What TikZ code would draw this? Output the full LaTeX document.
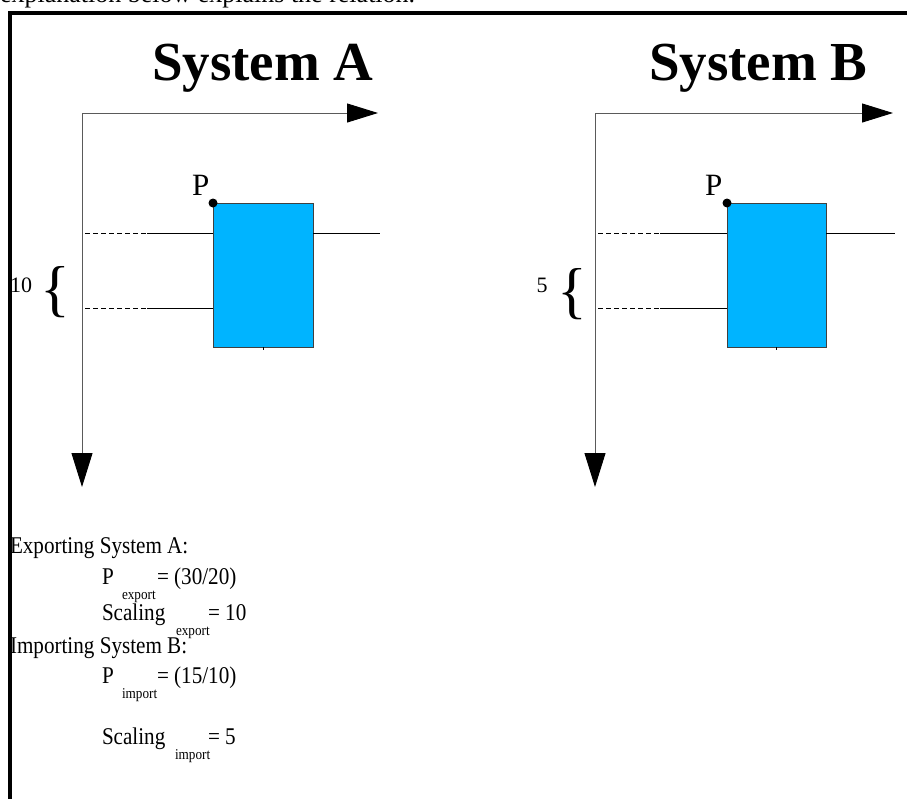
\documentclass[tikz,border=0pt]{standalone}
\usepackage{fontspec}
\setmainfont{Liberation Serif}
\usetikzlibrary{arrows.meta}
\definecolor{boxblue}{RGB}{0,180,255}
\definecolor{axisgray}{RGB}{90,90,90}
\newcommand{\nrw}[1]{\scalebox{0.88}[1]{#1}}
\tikzset{
  txt/.style={inner sep=0pt, outer sep=0pt, anchor=base west, font=\fontsize{24}{26}\selectfont},
  subtxt/.style={inner sep=0pt, outer sep=0pt, anchor=base west, font=\fontsize{15}{16}\selectfont},
  title/.style={inner sep=0pt, outer sep=0pt, anchor=base west, font=\fontsize{55}{60}\selectfont\bfseries},
  bracetxt/.style={inner sep=0pt, outer sep=0pt, anchor=base west, font=\fontsize{62}{64}\selectfont},
  plabel/.style={inner sep=0pt, outer sep=0pt, anchor=base west, font=\fontsize{31}{33}\selectfont},
  axis/.style={draw=axisgray, line width=1pt,
    {Triangle[length=34pt,width=21pt,color=black]}-{Triangle[length=31pt,width=19pt,color=black]}},
  sysbox/.style={draw=black!75, line width=0.8pt, fill=boxblue, minimum width=100pt, minimum height=144pt, inner sep=0pt, outer sep=0pt},
  dashln/.style={draw=black, line width=0.8pt, dash pattern=on 5pt off 3pt},
  solidln/.style={draw=black, line width=0.8pt},
  pdot/.style={circle, fill=black, inner sep=0pt, minimum size=9pt},
  frame/.style={draw=black, line width=4pt}
}
\begin{document}
\begin{tikzpicture}[x=1pt,y=-1pt]
\useasboundingbox (0,0) rectangle (907,798);
% clipped line of text above the frame
\node[txt, font=\fontsize{26}{28}\selectfont] (toptext) at (0,2) {explanation below explains the relation.};
% frame
\coordinate (fbl) at (10,805);
\coordinate (ftl) at (10,12.5);
\coordinate (ftr) at (912,12.5);
\draw[frame] (fbl) -- (ftl) -- (ftr);

% ---------- System A ----------
\node[title] (titleA) at (152,80) {System A};
\coordinate (oA) at (82,113);
\coordinate (xA) at (378,113);
\coordinate (yA) at (82,487);
\draw[axis] (yA) -- (oA) -- (xA);
\node[sysbox] (boxA) at (263,275) {};
\coordinate (dA1) at (85,233);
\coordinate (sA1) at (147,233);
\coordinate (dA2) at (85,308);
\coordinate (sA2) at (147,308);
\coordinate (rA1) at (380,233);
\draw[dashln] (dA1) -- (sA1);
\draw[solidln] (sA1) -- (boxA.west |- sA1);
\draw[dashln] (dA2) -- (sA2);
\draw[solidln] (sA2) -- (boxA.west |- sA2);
\draw[solidln] (boxA.east |- rA1) -- (rA1);
\draw[solidln] (boxA.south) -- ++(0,3);
\node[pdot] (dotA) at (boxA.north west) {};
\node[plabel] (pA) at (192,195) {P};
\node[txt, font=\fontsize{22}{24}\selectfont] (numA) at (10,292) {10};
\node[bracetxt] (braceA) at (40,309) {\{};

% ---------- System B ----------
\node[title] (titleB) at (649,80) {System B};
\coordinate (oB) at (595,113);
\coordinate (xB) at (893,113);
\coordinate (yB) at (595,487);
\draw[axis] (yB) -- (oB) -- (xB);
\node[sysbox, minimum width=99pt] (boxB) at (776.5,275) {};
\coordinate (dB1) at (598,233);
\coordinate (sB1) at (660,233);
\coordinate (dB2) at (598,308);
\coordinate (sB2) at (660,308);
\coordinate (rB1) at (895,233);
\draw[dashln] (dB1) -- (sB1);
\draw[solidln] (sB1) -- (boxB.west |- sB1);
\draw[dashln] (dB2) -- (sB2);
\draw[solidln] (sB2) -- (boxB.west |- sB2);
\draw[solidln] (boxB.east |- rB1) -- (rB1);
\draw[solidln] (boxB.south) -- ++(0,3);
\node[pdot] (dotB) at (boxB.north west) {};
\node[plabel] (pB) at (705,195) {P};
\node[txt, font=\fontsize{22}{24}\selectfont] (numB) at (536.5,292) {5};
\node[bracetxt] (braceB) at (557,311) {\{};

% ---------- explanation text ----------
\node[txt] (expA) at (10,553) {\nrw{Exporting System A:}};
\node[txt] (pexp) at (102,584) {\nrw{P}};
\node[subtxt] (pexpsub) at (122,599) {\nrw{export}};
\node[txt] (pexpval) at (157,584) {\nrw{= (30/20)}};
\node[txt] (sexp) at (102,620) {\nrw{Scaling}};
\node[subtxt] (sexpsub) at (176,635) {\nrw{export}};
\node[txt] (sexpval) at (208,620) {\nrw{= 10}};
\node[txt] (impB) at (10,653) {\nrw{Importing System B:}};
\node[txt] (pimp) at (102,683) {\nrw{P}};
\node[subtxt] (pimpsub) at (122,698) {\nrw{import}};
\node[txt] (pimpval) at (157,683) {\nrw{= (15/10)}};
\node[txt] (simp) at (102,744) {\nrw{Scaling}};
\node[subtxt] (simpsub) at (175,759) {\nrw{import}};
\node[txt] (simpval) at (208,744) {\nrw{= 5}};
\end{tikzpicture}
\end{document}
